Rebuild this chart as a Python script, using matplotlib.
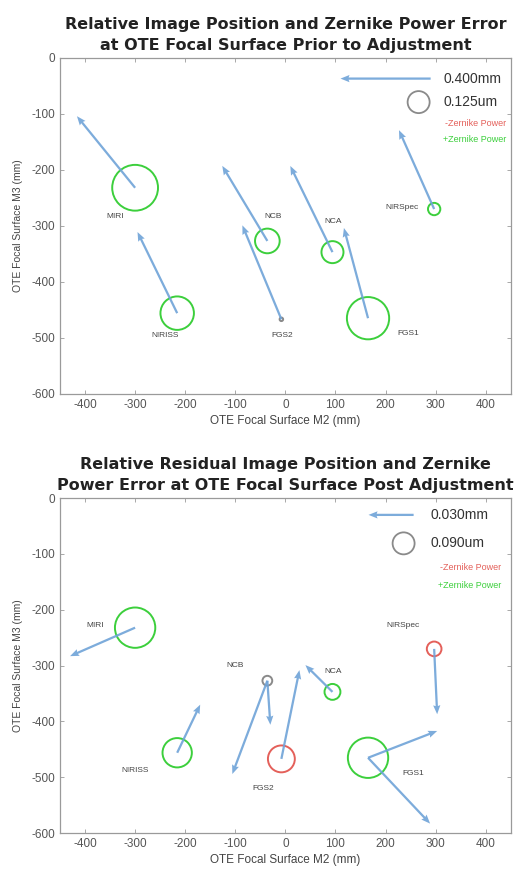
import numpy as np
import matplotlib
matplotlib.use("Agg")
import matplotlib.pyplot as plt

plt.rcParams["font.family"] = ["Liberation Sans", "DejaVu Sans"]
plt.rcParams["axes.unicode_minus"] = False

# Instruments and their field positions on the OTE focal surface (mm)
instruments = ["MIRI", "NIRISS", "NCB", "FGS2", "NCA", "FGS1", "NIRSpec"]
pos_m2 = [-300, -216, -36, -8, 94, 165, 297]
pos_m3 = [-232, -456, -327, -467, -347, -465, -270]

# Prior to adjustment: image shift (mm) and Zernike power error (um)
pre_shift_x = [-0.258, -0.176, -0.200, -0.173, -0.187, -0.107, -0.156]
pre_shift_y = [0.284, 0.322, 0.298, 0.373, 0.342, 0.358, 0.313]
pre_power = [0.26, 0.19, 0.14, 0.02, 0.125, 0.24, 0.07]

# Post adjustment residuals: image shift (mm) and Zernike power error (um)
post_shift_x = [-0.0433, 0.0153, -0.0233, 0.0120, -0.0180, 0.0460, 0.0020]
post_shift_y = [-0.0170, 0.0287, -0.0557, 0.0530, 0.0160, 0.0160, -0.0390]
post_power = [0.165, 0.12, 0.04, -0.11, 0.065, 0.165, -0.06]

# Additional residual shift vectors seen at FGS1 and NCB
post_extra_inst = ["FGS1", "NCB"]
post_extra_shift_x = [0.0413, 0.0020]
post_extra_shift_y = [-0.0393, -0.0263]

# Reference keys
pre_key_shift = 0.400   # mm
pre_key_power = 0.125   # um
post_key_shift = 0.030  # mm
post_key_power = 0.090  # um

x_ticks = [-400, -300, -200, -100, 0, 100, 200, 300, 400]
y_ticks = [0, -100, -200, -300, -400, -500, -600]

titles = ["Relative Image Position and Zernike Power Error\nat OTE Focal Surface Prior to Adjustment",
          "Relative Residual Image Position and Zernike\nPower Error at OTE Focal Surface Post Adjustment"]

ARROW = "#6fa3d8"
GREEN = "#3ccf3c"
RED = "#e4605a"
GRAY = "#8a8a8a"


def power_color(p):
    if abs(p) < 0.05:
        return GRAY
    return GREEN if p > 0 else RED


def draw_panel(ax, title, sx, sy, power, vec_scale, pt_per_um,
               key_shift, key_power, key_xy, label_xy, extras=None):
    ax.set_xlim(-450, 450)
    ax.set_ylim(-600, 0)
    ax.set_xticks(x_ticks)
    ax.set_yticks(y_ticks)
    ax.tick_params(direction="in", top=True, right=True, labelsize=8.5,
                   labelcolor="#555555", color="#9a9a9a", length=3, width=0.6)
    for s in ax.spines.values():
        s.set_color("#9a9a9a")
        s.set_linewidth(0.9)
    ax.set_xlabel("OTE Focal Surface M2 (mm)", fontsize=8.5, color="#444444", labelpad=3)
    ax.set_ylabel("OTE Focal Surface M3 (mm)", fontsize=7.5, color="#444444", labelpad=6)
    ax.set_title(title, fontsize=11.5, fontweight="bold", color="#222222", pad=6,
                 linespacing=1.5, family="DejaVu Sans")

    # Zernike power circles (radius proportional to |power|)
    sizes = [(2 * pt_per_um * abs(p)) ** 2 for p in power]
    colors = [power_color(p) for p in power]
    ax.scatter(pos_m2, pos_m3, s=sizes, facecolors="none", edgecolors=colors,
               linewidths=1.4, zorder=3)

    # Image position shift arrows
    qkw = dict(angles="xy", scale_units="xy", scale=1.0 / vec_scale, color=ARROW,
               width=0.005, headwidth=3.2, headlength=4.0, headaxislength=3.6,
               alpha=0.9, zorder=4)
    ax.quiver(pos_m2, pos_m3, sx, sy, **qkw)
    if extras is not None:
        names, ex, ey = extras
        idx = [instruments.index(n) for n in names]
        ax.quiver([pos_m2[i] for i in idx], [pos_m3[i] for i in idx], ex, ey, **qkw)

    for name, (lx, ly) in zip(instruments, label_xy):
        ax.text(lx, ly, name, fontsize=6, color="#444444", ha="center", va="center")

    # Key: arrow, circle, colour legend
    (ax_x, ax_y), (cx, cy), tx, (zx, zy1, zy2) = key_xy
    ax.quiver([ax_x], [ax_y], [-key_shift], [0], **qkw)
    ax.text(tx, ax_y, f"{key_shift:.3f}mm", fontsize=10, color="#333333",
            ha="left", va="center")
    ax.scatter([cx], [cy], s=[(2 * pt_per_um * key_power) ** 2], facecolors="none",
               edgecolors=GRAY, linewidths=1.3, zorder=3)
    ax.text(tx, cy, f"{key_power:.3f}um", fontsize=10, color="#333333",
            ha="left", va="center")
    ax.text(zx, zy1, "-Zernike Power", fontsize=6.5, color=RED, ha="right", va="center")
    ax.text(zx, zy2, "+Zernike Power", fontsize=6.5, color=GREEN, ha="right", va="center")


fig = plt.figure(figsize=(5.17, 8.77), dpi=100)
ax1 = fig.add_axes([0.116, 0.551, 0.872, 0.383])
ax2 = fig.add_axes([0.116, 0.050, 0.872, 0.382])

pre_labels = [(-340, -284), (-240, -496), (-24, -284), (-6, -496),
              (96, -293), (246, -493), (232, -268)]
post_labels = [(-380, -229), (-300, -487), (-100, -299), (-44, -520),
               (96, -310), (256, -493), (234, -229)]

draw_panel(ax1, titles[0], pre_shift_x, pre_shift_y, pre_power, 450, 63.4,
           pre_key_shift, pre_key_power,
           ((290, -37), (266, -79), 316, (440, -118, -146)), pre_labels)
draw_panel(ax2, titles[1], post_shift_x, post_shift_y, post_power, 3000, 88.0,
           post_key_shift, post_key_power,
           ((256, -30), (236, -81), 290, (430, -125, -156)), post_labels,
           extras=(post_extra_inst, post_extra_shift_x, post_extra_shift_y))

fig.savefig("out.png", dpi=100)
